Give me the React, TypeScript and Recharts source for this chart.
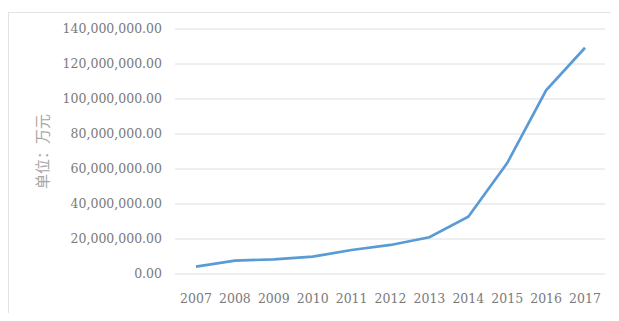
import React from 'react';
import { LineChart, Line, XAxis, YAxis, CartesianGrid } from 'recharts';

const years = ['2007', '2008', '2009', '2010', '2011', '2012', '2013', '2014', '2015', '2016', '2017'];
const values = [4200000, 7600000, 8400000, 9900000, 13700000, 16600000, 21000000, 32700000, 63400000, 105000000, 129300000];
const yTicks = [0, 20000000, 40000000, 60000000, 80000000, 100000000, 120000000, 140000000];

const data = years.map((y, i) => ({ year: y, value: values[i] }));

const fmt = (v: number) =>
  v.toLocaleString('en-US', { minimumFractionDigits: 2, maximumFractionDigits: 2 });

const font = '"DejaVu Serif", serif';

export default function App() {
  return (
    <div style={{ position: 'relative', width: 603, height: 305 }}>
      <div
        style={{
          position: 'absolute',
          left: 0,
          top: 4,
          width: 606,
          height: 320,
          border: '1px solid #e3e3e3',
          boxSizing: 'border-box',
        }}
      />
      <LineChart
        width={603}
        height={305}
        data={data}
        margin={{ top: 21, right: 6, bottom: 0, left: 0 }}
        style={{ position: 'absolute', left: 0, top: 0 }}
      >
        <CartesianGrid horizontal vertical={false} stroke="#dedede" strokeWidth={1} />
        <XAxis
          dataKey="year"
          axisLine={false}
          tickLine={false}
          height={39}
          tickMargin={14}
          interval={0}
          padding={{ left: 21, right: 20 }}
          tick={{ fill: '#7a7a7a', fontSize: 12.5, fontFamily: font }}
        />
        <YAxis
          width={167}
          domain={[0, 140000000]}
          ticks={yTicks}
          tickFormatter={fmt}
          axisLine={false}
          tickLine={false}
          tickMargin={7}
          tick={{ fill: '#7a7a7a', fontSize: 12.5, fontFamily: font }}
          label={{
            value: '单位：万元',
            angle: -90,
            position: 'insideLeft',
            offset: 35,
            style: { fill: '#a6a6a6', fontSize: 15, fontFamily: '"Noto Sans CJK SC", sans-serif', textAnchor: 'middle' },
          }}
        />
        <Line
          type="linear"
          dataKey="value"
          stroke="#5b9bd5"
          strokeWidth={2.7}
          dot={false}
          isAnimationActive={false}
        />
      </LineChart>
    </div>
  );
}
